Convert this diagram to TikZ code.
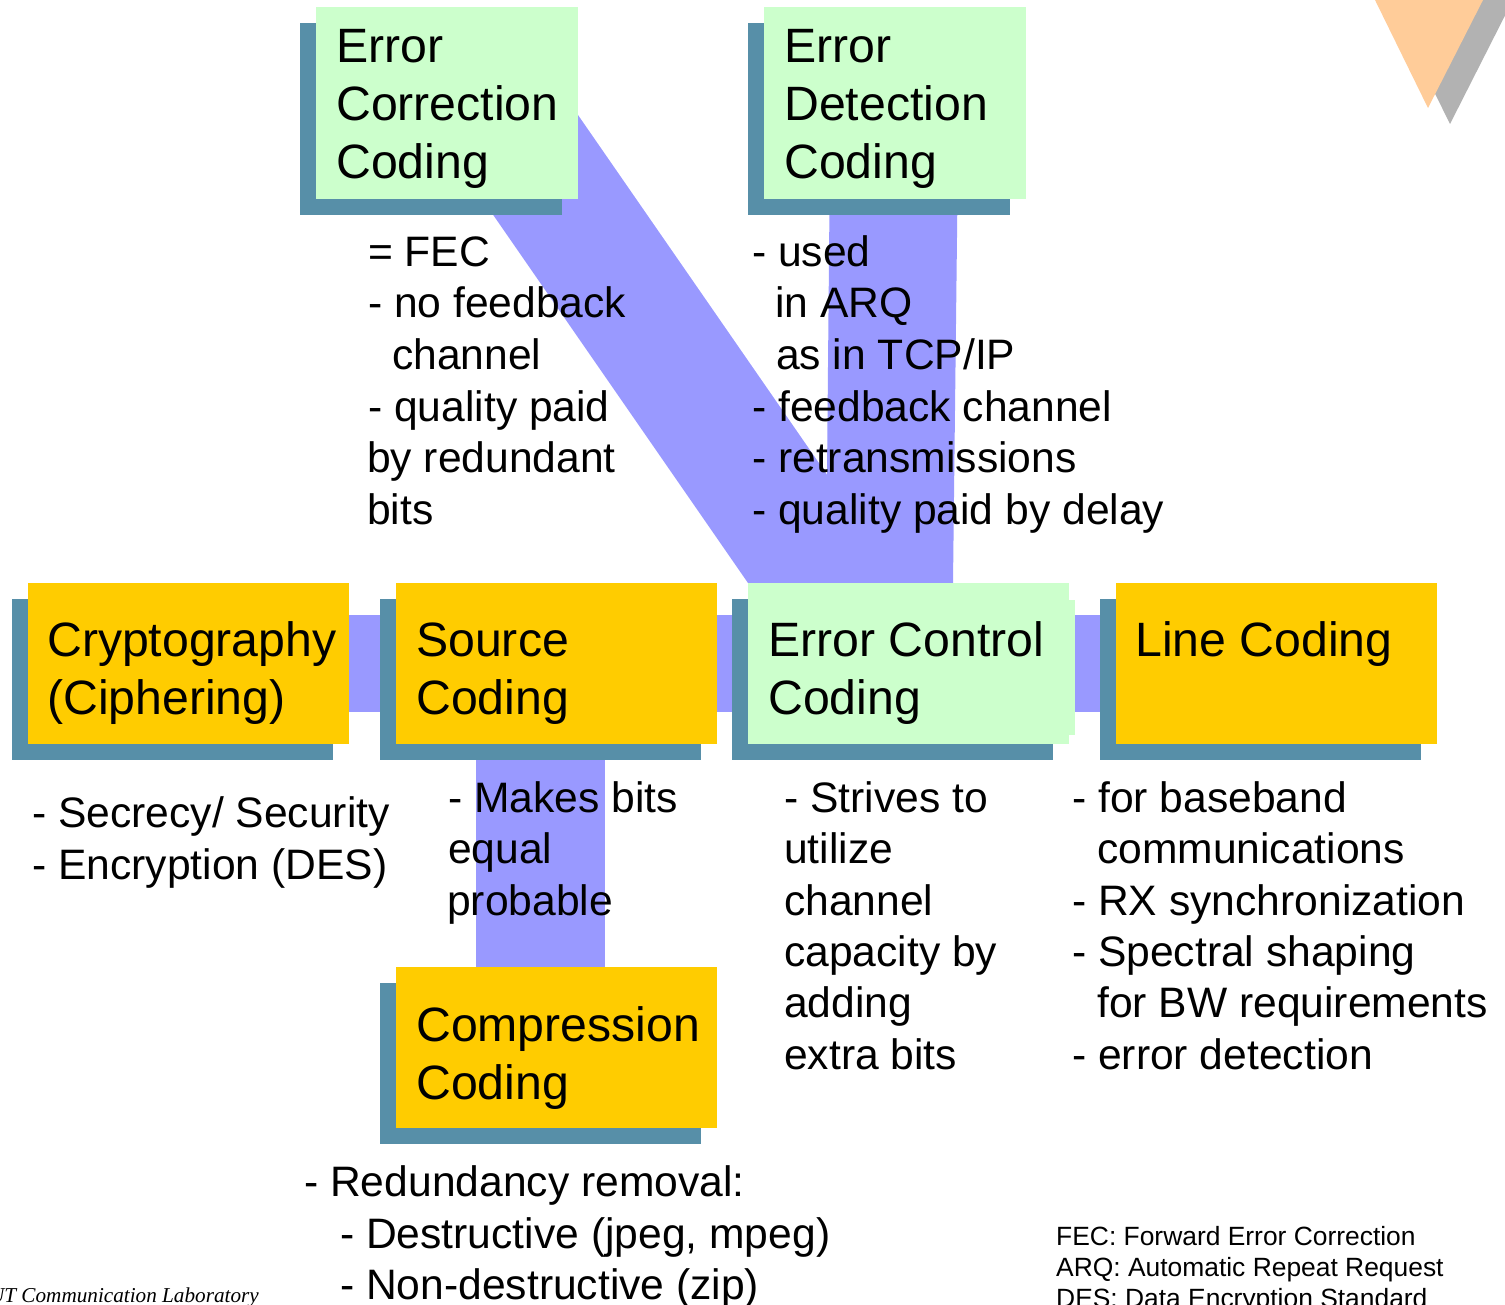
\documentclass[tikz,border=0pt]{standalone}
\usepackage{fontspec}
\setmainfont{Liberation Sans}
\newfontfamily\TxSerif{Liberation Serif}
\newcommand\TxBig{\fontsize{48.2}{57}\selectfont}
\newcommand\TxMed{\fontsize{42.6}{51.5}\selectfont}
\newcommand\TxSmall{\fontsize{26.4}{31}\selectfont}
\definecolor{boxgreen}{HTML}{CCFFCC}
\definecolor{boxorange}{HTML}{FFCC00}
\definecolor{boxshadow}{HTML}{578FA8}
\definecolor{bandblue}{HTML}{9999FF}
\definecolor{triorange}{HTML}{FFCC99}
\definecolor{trigray}{HTML}{B2B2B2}
\tikzset{
  boxbase/.style={draw=none, inner sep=0pt, outer sep=0pt, anchor=north west,
    minimum width=#1},
  greenbox/.style={boxbase=262pt, minimum height=192pt, fill=boxgreen},
  greenshadow/.style={boxbase=262pt, minimum height=192pt, fill=boxshadow},
  rowbox/.style={boxbase=321pt, minimum height=161pt, fill=#1},
  bigtxt/.style={anchor=base west, inner sep=0pt, font=\TxBig},
  medtxt/.style={anchor=base west, inner sep=0pt, font=\TxMed},
  smalltxt/.style={anchor=base west, inner sep=0pt, font=\TxSmall},
  band/.style={fill=bandblue, draw=none}
}
\begin{document}
\begin{tikzpicture}[x=1pt, y=-1pt]
\useasboundingbox (0,0) rectangle (1505,1305);
\fill[white] (0,0) rectangle (1505,1305);

% corner triangles
\begin{scope}
\clip (0,0) rectangle (1505,1305);
\fill[trigray] (1379,-20) -- (1523,-20) -- (1450,124) -- cycle;
\fill[triorange] (1375,0) -- (1483,0) -- (1428,108) -- cycle;
\node[anchor=base east, inner sep=0pt, font=\TxSerif\itshape\fontsize{21.2}{25}\selectfont] (lab) at (259,1302) {HUT Communication Laboratory};
\end{scope}

% named corner points of the connector bands
\coordinate (dA) at (424,115);
\coordinate (dB) at (578,115);
\coordinate (dC) at (902,583);
\coordinate (dD) at (748,583);
\coordinate (vA) at (830,150);
\coordinate (vB) at (958,150);
\coordinate (vC) at (953,583);
\coordinate (vD) at (826,583);

% connector bands
\fill[band] (dA) -- (dB) -- (dC) -- (dD) -- cycle;
\fill[band] (vA) -- (vB) -- (vC) -- (vD) -- cycle;
\fill[band] (340,615) rectangle (1110,712);
\fill[band] (476,740) rectangle (605,980);

% top boxes
\node[greenshadow] (ecorrS) at (300,23) {};
\node[greenbox] (ecorr) at (316,7) {};
\node[greenshadow] (edetS) at (748,23) {};
\node[greenbox] (edet) at (764,7) {};

% row boxes
\node[rowbox=boxshadow] (cryptS) at (12,599) {};
\node[rowbox=boxorange] (crypt) at (28,583) {};
\node[rowbox=boxshadow] (srcS) at (380,599) {};
\node[rowbox=boxorange] (src) at (396,583) {};
\node[rowbox=boxshadow] (eccS) at (732,599) {};
\node[boxbase=321pt, minimum height=135pt, fill=boxgreen] (eccB) at (754,600) {};
\node[rowbox=boxgreen] (ecc) at (748,583) {};
\node[rowbox=boxshadow] (lineS) at (1100,599) {};
\node[rowbox=boxorange] (line) at (1116,583) {};
\node[rowbox=boxshadow] (compS) at (380,983) {};
\node[rowbox=boxorange] (comp) at (396,967) {};

% box titles
\node[bigtxt] (t1a) at (336,63) {Error};
\node[bigtxt] (t1b) at (336,121) {Correction};
\node[bigtxt] (t1c) at (336,179) {Coding};
\node[bigtxt] (t2a) at (784,63) {Error};
\node[bigtxt] (t2b) at (784,121) {Detection};
\node[bigtxt] (t2c) at (784,179) {Coding};
\node[bigtxt] (t3a) at (47,656) {Cryptography};
\node[bigtxt] (t3b) at (47,714) {(Ciphering)};
\node[bigtxt] (t4a) at (416,656) {Source};
\node[bigtxt] (t4b) at (416,714) {Coding};
\node[bigtxt] (t5a) at (768,656) {Error Control};
\node[bigtxt] (t5b) at (768,714) {Coding};
\node[bigtxt] (t6a) at (1135,656) {Line Coding};
\node[bigtxt] (t7a) at (416,1041) {Compression};
\node[bigtxt] (t7b) at (416,1099) {Coding};

% descriptions: error correction
\node[medtxt] (d1a) at (368,267) {= FEC};
\node[medtxt] (d1b) at (368,318) {- no feedback};
\node[medtxt] (d1c) at (392,370) {channel};
\node[medtxt] (d1d) at (368,421) {- quality paid};
\node[medtxt] (d1e) at (367,472) {by redundant};
\node[medtxt] (d1f) at (367,524) {bits};
% error detection
\node[medtxt] (d2a) at (752,267) {- used};
\node[medtxt] (d2b) at (775,318) {in ARQ};
\node[medtxt] (d2c) at (776,370) {as in TCP/IP};
\node[medtxt] (d2d) at (752,421) {- feedback channel};
\node[medtxt] (d2e) at (752,472) {- retransmissions};
\node[medtxt] (d2f) at (752,524) {- quality paid by delay};
% cryptography
\node[medtxt] (d3a) at (32,827) {- Secrecy/ Security};
\node[medtxt] (d3b) at (32,879) {- Encryption (DES)};
% source
\node[medtxt] (d4a) at (448,812) {- Makes bits};
\node[medtxt] (d4b) at (448,863) {equal};
\node[medtxt] (d4c) at (447,915) {probable};
% error control
\node[medtxt] (d5a) at (784,812) {- Strives to};
\node[medtxt] (d5b) at (784,863) {utilize};
\node[medtxt] (d5c) at (784,915) {channel};
\node[medtxt] (d5d) at (784,966) {capacity by};
\node[medtxt] (d5e) at (784,1017) {adding};
\node[medtxt] (d5f) at (784,1069) {extra bits};
% line coding
\node[medtxt] (d6a) at (1072,812) {- for baseband};
\node[medtxt] (d6b) at (1097,863) {communications};
\node[medtxt] (d6c) at (1072,915) {- RX synchronization};
\node[medtxt] (d6d) at (1072,966) {- Spectral shaping};
\node[medtxt] (d6e) at (1097,1017) {for BW requirements};
\node[medtxt] (d6f) at (1072,1069) {- error detection};
% compression
\node[medtxt] (d7a) at (304,1196) {- Redundancy removal:};
\node[medtxt] (d7b) at (340,1248) {- Destructive (jpeg, mpeg)};
\node[medtxt] (d7c) at (340,1299) {- Non-destructive (zip)};

% footnotes
\node[smalltxt] (f1) at (1056,1245) {FEC: Forward Error Correction};
\node[smalltxt] (f2) at (1056,1276) {ARQ: Automatic Repeat Request};
\node[smalltxt] (f3) at (1056,1307) {DES: Data Encryption Standard};
\end{tikzpicture}
\end{document}
